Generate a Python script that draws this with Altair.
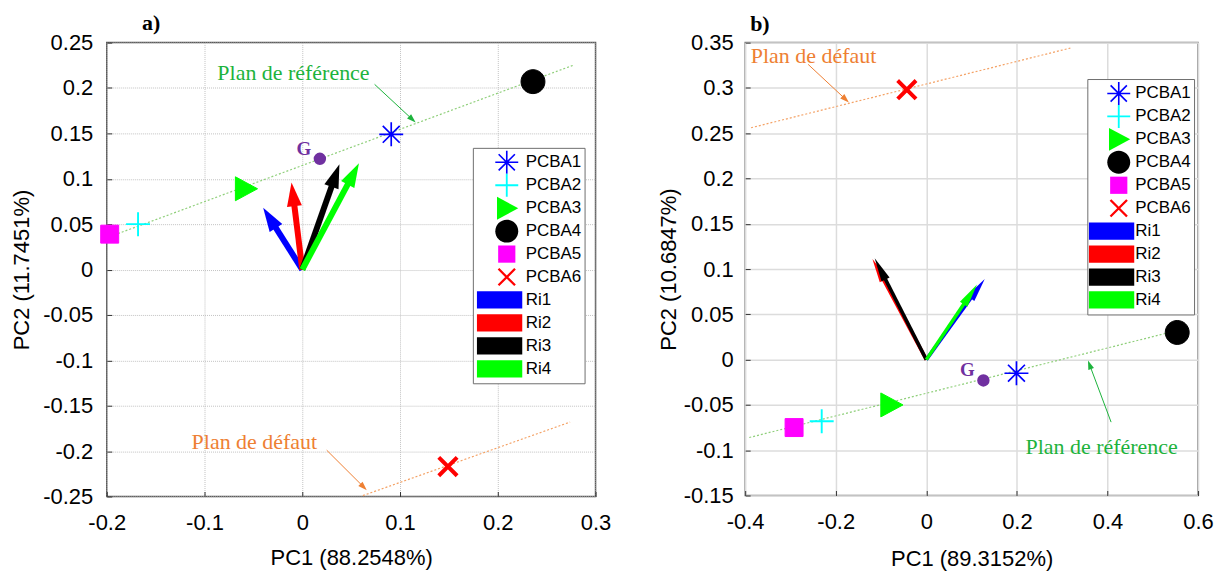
import math
import altair as alt
import pandas as pd

# ---------------- data ----------------
pcba = ["PCBA1", "PCBA2", "PCBA3", "PCBA4", "PCBA5", "PCBA6"]
ri = ["Ri1", "Ri2", "Ri3", "Ri4"]

# panel a)
a_pc1 = [0.091, -0.168, -0.058, 0.236, -0.197, 0.149]
a_pc2 = [0.149, 0.050, 0.089, 0.207, 0.039, -0.217]
a_ri_pc1 = [-0.040, -0.011, 0.038, 0.058]
a_ri_pc2 = [0.068, 0.096, 0.116, 0.117]
a_g = [0.018, 0.122]
a_ref_line_x = [-0.200, 0.277]
a_ref_line_y = [0.035, 0.225]
a_def_line_x = [0.062, 0.274]
a_def_line_y = [-0.249, -0.168]
a_ref_text = [-0.009, 0.216]
a_def_text = [-0.049, -0.190]
a_ref_arrow_x = [0.074, 0.116]
a_ref_arrow_y = [0.204, 0.162]
a_def_arrow_x = [0.025, 0.066]
a_def_arrow_y = [-0.199, -0.243]
a_panel_label = [-0.164, 0.264]
a_x_ticks = [-0.2, -0.1, 0, 0.1, 0.2, 0.3]
a_y_ticks = [-0.25, -0.2, -0.15, -0.1, -0.05, 0, 0.05, 0.1, 0.15, 0.2, 0.25]

# panel b)
b_pc1 = [0.199, -0.231, -0.078, 0.554, -0.292, -0.043]
b_pc2 = [-0.015, -0.068, -0.050, 0.030, -0.075, 0.298]
b_ri_pc1 = [0.129, -0.119, -0.114, 0.112]
b_ri_pc2 = [0.089, 0.111, 0.112, 0.083]
b_g = [0.126, -0.023]
b_ref_line_x = [-0.391, 0.545]
b_ref_line_y = [-0.086, 0.031]
b_def_line_x = [-0.387, 0.318]
b_def_line_y = [0.256, 0.344]
b_ref_text = [0.387, -0.096]
b_def_text = [-0.249, 0.335]
b_ref_arrow_x = [0.408, 0.357]
b_ref_arrow_y = [-0.069, -0.001]
b_def_arrow_x = [-0.261, -0.171]
b_def_arrow_y = [0.326, 0.284]
b_panel_label = [-0.389, 0.363]
b_x_ticks = [-0.4, -0.2, 0, 0.2, 0.4, 0.6]
b_y_ticks = [-0.15, -0.1, -0.05, 0, 0.05, 0.1, 0.15, 0.2, 0.25, 0.3, 0.35]

# ---------------- styles ----------------
LEGEND_ENTRIES = pcba + ri
SERIES_COLORS = ["#0000ff", "#00ffff", "#00ff00", "#000000", "#ff00ff", "#ff0000",
                 "#0000ff", "#ff0000", "#000000", "#00ff00"]
RI_COLORS = SERIES_COLORS[6:]
BOX = "M0,-1M0,1"  # invisible move-tos: same row height for every legend entry
# marker glyphs drawn as filled outlines (so the legend needs no stroke)
P_AST = ("M-0.07,-1H0.07V1H-0.07Z"
         "M-1,-0.07H1V0.07H-1Z"
         "M-0.657,-0.757L0.757,0.657L0.657,0.757L-0.757,-0.657Z"
         "M-0.757,0.657L0.657,-0.757L0.757,-0.657L-0.657,0.757Z")
P_PLUS = "M-0.08,-1H0.08V1H-0.08Z" + "M-1,-0.08H1V0.08H-1Z"
P_TRI = "M-0.85,-1L1,0L-0.85,1Z"
P_CIRC = "M1,0A1,1,0,1,1,-1,0A1,1,0,1,1,1,0Z"
P_SQ = BOX + "M-0.75,-0.75H0.75V0.75H-0.75Z"
P_X = BOX + ("M-0.649,-0.791L0.791,0.649L0.649,0.791L-0.791,-0.649Z"
             "M-0.791,0.649L0.649,-0.791L0.791,-0.649L-0.649,0.791Z")
P_RECT = BOX + "M-2.6,-0.75H1.35V0.75H-2.6Z"
SERIES_SHAPES = [P_AST, P_PLUS, P_TRI, P_CIRC, P_SQ, P_X, P_RECT, P_RECT, P_RECT, P_RECT]
PT_STROKE_W = [0.0, 0.0, 1.0, 1.0, 1.0, 1.6]
PT_SIZE = 576

GREEN_TXT = "#1db33c"
GREEN_LINE = "#8fcf7a"
ORANGE_TXT = "#ee8033"
ORANGE_LINE = "#f4a266"
PURPLE = "#7030a0"
SANS = "Liberation Sans"
SERIF = "Liberation Serif"
LABEL_EXPR = "replace(format(datum.value, '.2~f'), '\u2212', '-')"


def head_path(half_w_units):
    return f"M0,0L{half_w_units:.3f},2L{-half_w_units:.3f},2Z"


def arrows_df(names, x0, y0, x1, y1, sx, sy, back_px):
    rows = []
    for n, a, b, c, e in zip(names, x0, y0, x1, y1):
        dxp, dyp = (c - a) * sx, (e - b) * sy
        L = math.hypot(dxp, dyp)
        f = back_px / L
        rows.append(dict(series=n, x0=a, y0=b, xe=c - (c - a) * f, ye=e - (e - b) * f,
                         xt=c, yt=e, ang=math.degrees(math.atan2(dxp, dyp)) % 360))
    return pd.DataFrame(rows)


def panel(d):
    series_scale = alt.Scale(domain=LEGEND_ENTRIES, range=SERIES_COLORS)
    shape_scale = alt.Scale(domain=LEGEND_ENTRIES, range=SERIES_SHAPES)
    vec_scale = alt.Scale(domain=ri, range=RI_COLORS)
    sx = d["w"] / (d["xdom"][1] - d["xdom"][0])
    sy = d["h"] / (d["ydom"][1] - d["ydom"][0])
    xsc = alt.Scale(domain=d["xdom"], nice=False, zero=False)
    ysc = alt.Scale(domain=d["ydom"], nice=False, zero=False)
    common = dict(grid=True, gridColor=d["grid_color"], gridWidth=d["grid_width"], domain=False,
                  ticks=True, tickSize=5, tickColor="#333333", tickWidth=1, offset=-5,
                  labelFont=SANS, labelFontSize=22, labelColor="black", labelExpr=LABEL_EXPR,
                  labelOverlap=False, labelFlush=False, titleFont=SANS, titleFontSize=22,
                  titleFontWeight="normal", titleColor="black")
    if d["grid_dash"]:
        common["gridDash"] = d["grid_dash"]
    xaxis = alt.Axis(values=d["xticks"], title=d["xtitle"], labelPadding=16, minExtent=43,
                     maxExtent=43, titlePadding=d["xtp"], **common)
    yaxis = alt.Axis(values=d["yticks"], title=d["ytitle"], labelPadding=d["ylp"],
                     minExtent=d["yext"], maxExtent=d["yext"], titlePadding=d["ytp"], **common)

    def X(f):
        return alt.X(f, type="quantitative", scale=xsc, axis=xaxis)

    def Y(f):
        return alt.Y(f, type="quantitative", scale=ysc, axis=yaxis)

    layers = []
    # dotted planes
    for lx, ly, col in [(d["ref_x"], d["ref_y"], GREEN_LINE), (d["def_x"], d["def_y"], ORANGE_LINE)]:
        df = pd.DataFrame({"x0": [lx[0]], "y0": [ly[0]], "xe": [lx[1]], "ye": [ly[1]]})
        layers.append(alt.Chart(df).mark_rule(color=col, strokeWidth=1.2, strokeDash=[2, 2]).encode(
            x=X("x0"), y=Y("y0"), x2=alt.X2("xe"), y2=alt.Y2("ye")))
    # annotation arrows
    for ax, ay, col in [(d["ref_ax"], d["ref_ay"], GREEN_TXT), (d["def_ax"], d["def_ay"], ORANGE_TXT)]:
        df = arrows_df(["n"], [ax[0]], [ay[0]], [ax[1]], [ay[1]], sx, sy, 5)
        layers.append(alt.Chart(df).mark_rule(color=col, strokeWidth=1).encode(
            x=X("x0"), y=Y("y0"), x2=alt.X2("xe"), y2=alt.Y2("ye")))
        layers.append(alt.Chart(df).mark_point(shape=head_path(0.667), size=81, filled=True, opacity=1,
                                               fill=col, strokeWidth=0).encode(
            x=X("xt"), y=Y("yt"), angle=alt.Angle("ang:Q", scale=None)))
    # variable vectors (color channel with its own domain, no legend)
    vdf = arrows_df(ri, [0] * 4, [0] * 4, d["ri_x"], d["ri_y"], sx, sy, 14)
    layers.append(alt.Chart(vdf).mark_rule(strokeWidth=d["shaft_w"], strokeCap="butt").encode(
        x=X("x0"), y=Y("y0"), x2=alt.X2("xe"), y2=alt.Y2("ye"),
        color=alt.Color("series:N", scale=vec_scale, legend=None)))
    hl = d["head_len"]
    layers.append(alt.Chart(vdf).mark_point(shape=head_path(d["head_w"] / 2 / (hl / 2)), size=hl * hl,
                                            filled=True, opacity=1, strokeWidth=0).encode(
        x=X("xt"), y=Y("yt"), angle=alt.Angle("ang:Q", scale=None),
        color=alt.Color("series:N", scale=vec_scale, legend=None)))
    # individuals + legend
    legend = alt.Legend(title=None, orient="none", legendX=d["lx"], legendY=d["ly"], padding=3,
                        rowPadding=0, symbolSize=529, symbolStrokeWidth=0,
                        symbolOffset=d["so"], labelOffset=d["lo"], labelFont=SANS, labelFontSize=17,
                        labelColor="black", strokeColor="#6e6e6e", fillColor="white", cornerRadius=0)
    pdf = pd.DataFrame({"series": pcba, "pc1": d["pc1"], "pc2": d["pc2"], "sw": PT_STROKE_W,
                        "sz": [PT_SIZE] * 6})
    layers.append(alt.Chart(pdf).mark_point(filled=True, opacity=1).encode(
        x=X("pc1"), y=Y("pc2"),
        shape=alt.Shape("series:N", scale=shape_scale, legend=legend),
        fill=alt.Fill("series:N", scale=series_scale, legend=legend),
        stroke=alt.Stroke("series:N", scale=series_scale, legend=legend),
        size=alt.Size("sz:Q", scale=None, legend=None),
        strokeWidth=alt.StrokeWidth("sw:Q", scale=None, legend=None)))
    # centre of gravity
    gdf = pd.DataFrame({"pc1": [d["g"][0]], "pc2": [d["g"][1]], "lab": ["G"]})
    layers.append(alt.Chart(gdf).mark_circle(size=154, color=PURPLE, opacity=1).encode(
        x=X("pc1"), y=Y("pc2")))
    layers.append(alt.Chart(gdf).mark_text(font=SERIF, fontSize=19, fontWeight="bold", color=PURPLE,
                                           dx=-16, dy=-10).encode(x=X("pc1"), y=Y("pc2"), text="lab:N"))
    # plane labels
    for pos, txt, col in [(d["ref_t"], "Plan de référence", GREEN_TXT), (d["def_t"], "Plan de défaut", ORANGE_TXT)]:
        tdf = pd.DataFrame({"pc1": [pos[0]], "pc2": [pos[1]], "lab": [txt]})
        layers.append(alt.Chart(tdf).mark_text(font=SERIF, fontSize=22, color=col).encode(
            x=X("pc1"), y=Y("pc2"), text="lab:N"))
    # panel letter
    ldf = pd.DataFrame({"pc1": [d["plab"][0]], "pc2": [d["plab"][1]], "lab": [d["title"]]})
    layers.append(alt.Chart(ldf).mark_text(font=SERIF, fontSize=22, fontWeight="bold", color="black",
                                           align="left", baseline="alphabetic").encode(
        x=X("pc1"), y=Y("pc2"), text="lab:N"))

    return alt.layer(*layers).properties(
        width=d["w"], height=d["h"],
        view=alt.ViewBackground(stroke=d["frame"], strokeWidth=1.5, fill="white"))


PA = dict(w=490, h=455, xdom=[-0.2, 0.3], ydom=[-0.25, 0.25], xticks=a_x_ticks, yticks=a_y_ticks,
          xtitle="PC1 (88.2548%)", ytitle="PC2 (11.7451%)", pc1=a_pc1, pc2=a_pc2,
          ri_x=a_ri_pc1, ri_y=a_ri_pc2, g=a_g, ref_x=a_ref_line_x, ref_y=a_ref_line_y,
          def_x=a_def_line_x, def_y=a_def_line_y, ref_t=a_ref_text, def_t=a_def_text,
          ref_ax=a_ref_arrow_x, ref_ay=a_ref_arrow_y, def_ax=a_def_arrow_x, def_ay=a_def_arrow_y,
          grid_color="#c2c2c2", grid_width=1, grid_dash=[1, 1], frame="#5a5a5a",
          xtp=13, ylp=14, yext=69, ytp=9, lx=367, ly=105.5, so=19.5, lo=7.5,
          shaft_w=6, head_len=24, head_w=15, title="a)", plab=a_panel_label)
PB = dict(w=454, h=454, xdom=[-0.4, 0.6], ydom=[-0.15, 0.35], xticks=b_x_ticks, yticks=b_y_ticks,
          xtitle="PC1 (89.3152%)", ytitle="PC2 (10.6847%)", pc1=b_pc1, pc2=b_pc2,
          ri_x=b_ri_pc1, ri_y=b_ri_pc2, g=b_g, ref_x=b_ref_line_x, ref_y=b_ref_line_y,
          def_x=b_def_line_x, def_y=b_def_line_y, ref_t=b_ref_text, def_t=b_def_text,
          ref_ax=b_ref_arrow_x, ref_ay=b_ref_arrow_y, def_ax=b_def_arrow_x, def_ay=b_def_arrow_y,
          grid_color="#dcdcdc", grid_width=1.5, grid_dash=None, frame="#7a7a7a",
          xtp=15, ylp=12, yext=67, ytp=3, lx=343, ly=36.5, so=17, lo=5,
          shaft_w=3.5, head_len=24, head_w=9, title="b)", plab=b_panel_label)

chart = alt.hconcat(panel(PA), panel(PB), spacing=44).resolve_scale(
    x="independent", y="independent", color="independent", fill="independent",
    stroke="independent", shape="independent"
).resolve_legend(
    color="independent", fill="independent", stroke="independent", shape="independent"
).properties(
    padding={"left": 2, "top": 2, "right": 4, "bottom": 2}, background="white"
).configure(font=SANS)

chart.save("out.html", embed_options={"renderer": "svg", "actions": False})
